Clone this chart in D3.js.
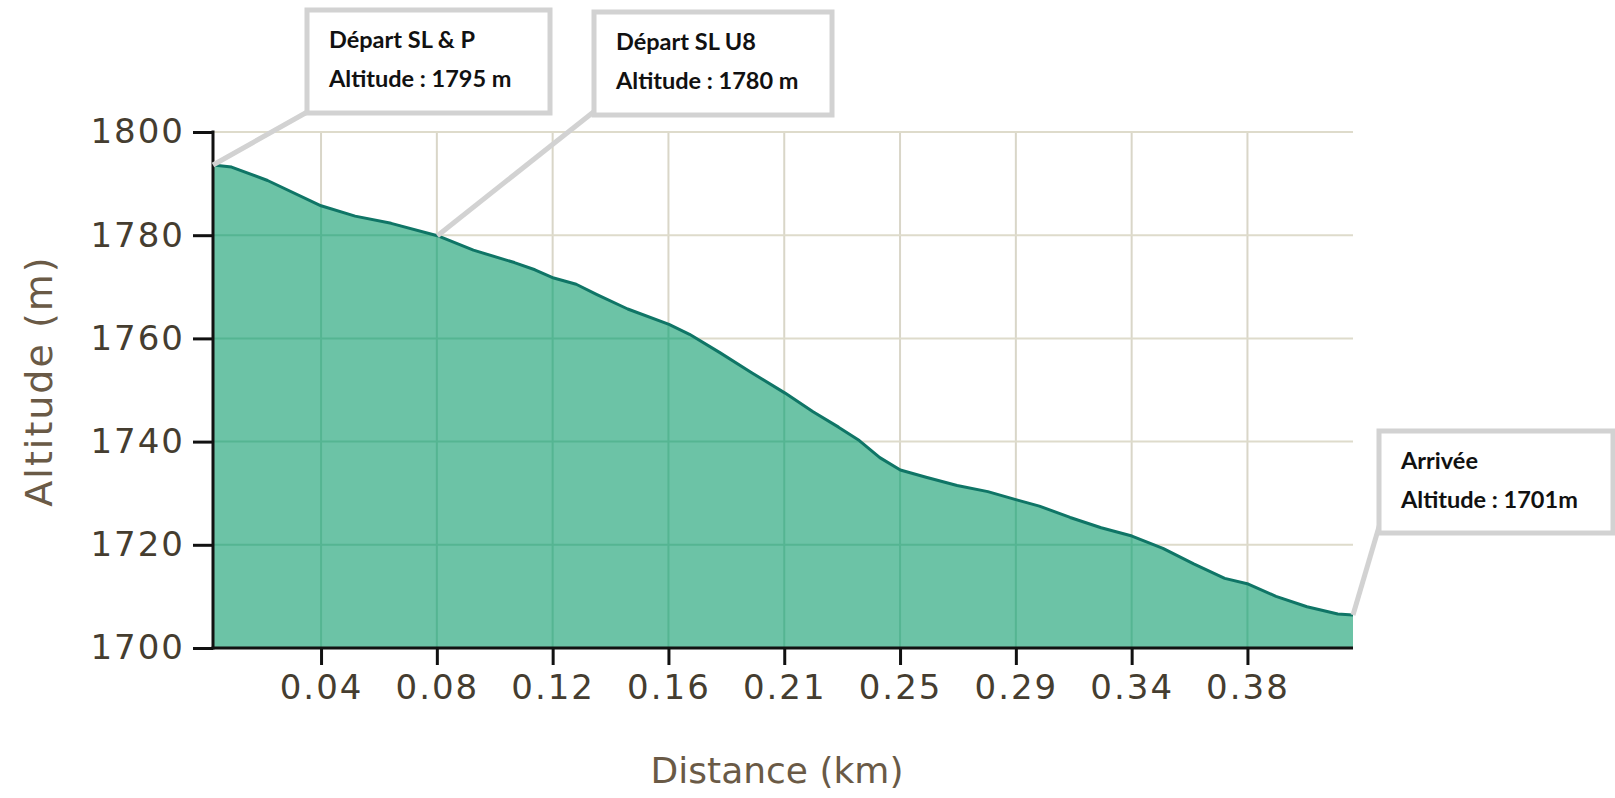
<!DOCTYPE html>
<html>
<head>
<meta charset="utf-8">
<script src="https://cdn.jsdelivr.net/npm/d3@7"></script>
<style>
  body { margin: 0; background: #fff; }
  svg { display: block; }
</style>
</head>
<body>
<div id="chart-area"></div>
<script>
// profile
var distKm = [0, 0.0067, 0.0197, 0.0390, 0.0513, 0.0643, 0.0810, 0.0940, 0.1088, 0.1162,
  0.1230, 0.1311, 0.1386, 0.1497, 0.1646, 0.1720, 0.1831, 0.1943, 0.2065, 0.2166,
  0.2258, 0.2333, 0.2407, 0.2481, 0.2574, 0.2686, 0.2797, 0.2901, 0.2983, 0.3094,
  0.3206, 0.3317, 0.3429, 0.3540, 0.3652, 0.3737, 0.3837, 0.3949, 0.4060, 0.4115]
var altitude = [1793.6, 1793.2, 1790.6, 1785.7, 1783.7, 1782.3, 1779.9, 1777.1, 1774.7, 1773.3,
  1771.7, 1770.5, 1768.5, 1765.7, 1762.7, 1760.8, 1757.2, 1753.4, 1749.4, 1745.8,
  1742.8, 1740.2, 1736.9, 1734.5, 1733.1, 1731.5, 1730.3, 1728.7, 1727.5, 1725.3,
  1723.3, 1721.7, 1719.3, 1716.3, 1713.5, 1712.4, 1710.0, 1708.0, 1706.6, 1706.4]

var yTicks = [1700, 1720, 1740, 1760, 1780, 1800]
var xTicks = [0.0390, 0.0808, 0.1226, 0.1644, 0.2062, 0.2480, 0.2898, 0.3316, 0.3734]
var xTickLabels = ["0.04", "0.08", "0.12", "0.16", "0.21", "0.25", "0.29", "0.34", "0.38"]

var notes = [
  { line1: "Départ SL & P", line2: "Altitude : 1795 m", at: 0 },
  { line1: "Départ SL U8", line2: "Altitude : 1780 m", at: 6 },
  { line1: "Arrivée", line2: "Altitude : 1701m", at: 39 }
]

var margin = { left: 213, right: 262, top: 132, bottom: 150 }
var width = 1615 - margin.left - margin.right
var height = 798 - margin.top - margin.bottom

var svg = d3.select("#chart-area")
  .append("svg")
  .attr("width", 1615)
  .attr("height", 798)

var g = svg.append("g")
  .attr("transform", "translate(" + margin.left + "," + margin.top + ")")

var x = d3.scaleLinear()
  .domain([0, d3.max(distKm)])
  .range([0, width])

var y = d3.scaleLinear()
  .domain([1700, 1800])
  .range([height, 0])

var pts = distKm.map(function (d, i) { return [d, altitude[i]] })

// grid (pale over the white part)
var grid = g.append("g").attr("class", "grid")
grid.selectAll(".gx").data(xTicks).enter().append("line")
  .attr("x1", function (d) { return x(d) }).attr("x2", function (d) { return x(d) })
  .attr("y1", 0).attr("y2", height)
  .attr("stroke", "#d9d6c8").attr("stroke-width", 2)
grid.selectAll(".gy").data(yTicks).enter().append("line")
  .attr("x1", 0).attr("x2", width)
  .attr("y1", function (d) { return y(d) }).attr("y2", function (d) { return y(d) })
  .attr("stroke", "#dedbcb").attr("stroke-width", 2)

var area = d3.area()
  .x(function (d) { return x(d[0]) })
  .y0(height)
  .y1(function (d) { return y(d[1]) })

g.append("clipPath").attr("id", "under")
  .append("path").attr("d", area(pts))

g.append("path")
  .attr("d", area(pts))
  .attr("fill", "#6cc3a6")

// grid seen through the fill
var grid2 = g.append("g").attr("clip-path", "url(#under)")
grid2.selectAll("line.vx").data(xTicks).enter().append("line")
  .attr("x1", function (d) { return x(d) }).attr("x2", function (d) { return x(d) })
  .attr("y1", 0).attr("y2", height)
  .attr("stroke", "#55b592").attr("stroke-width", 2)
grid2.selectAll("line.hy").data(yTicks).enter().append("line")
  .attr("x1", 0).attr("x2", width)
  .attr("y1", function (d) { return y(d) }).attr("y2", function (d) { return y(d) })
  .attr("stroke", "#55b592").attr("stroke-width", 2)

g.append("path")
  .attr("d", d3.line().x(function (d) { return x(d[0]) }).y(function (d) { return y(d[1]) })(pts))
  .attr("fill", "none")
  .attr("stroke", "#0f7566")
  .attr("stroke-width", 3)
  .attr("stroke-linejoin", "round")

// axes
var leftAxis = d3.axisLeft(y).tickValues(yTicks).tickSize(20).tickPadding(8)
  .tickFormat(d3.format("d"))
var yAx = g.append("g").attr("class", "y-axis").call(leftAxis)

var bottomAxis = d3.axisBottom(x).tickValues(xTicks).tickSize(17).tickPadding(10)
  .tickFormat(function (d, i) { return xTickLabels[i] })
var xAx = g.append("g").attr("class", "x-axis")
  .attr("transform", "translate(0," + height + ")")
  .call(bottomAxis)

g.selectAll(".domain").remove()
g.append("line").attr("x1", 0).attr("x2", 0).attr("y1", -1.5).attr("y2", height + 1.5)
  .attr("stroke", "#111").attr("stroke-width", 3)
g.append("line").attr("x1", -1.5).attr("x2", width).attr("y1", height).attr("y2", height)
  .attr("stroke", "#111").attr("stroke-width", 3)

g.selectAll(".tick line").attr("stroke", "#111").attr("stroke-width", 3)
g.selectAll(".tick text")
  .attr("fill", "#453d30")
  .style("font-family", "DejaVu Sans, Verdana, sans-serif")
  .style("font-size", "34px")
  .style("letter-spacing", "2px")

svg.append("text")
  .attr("x", margin.left + width / 2 - 6)
  .attr("y", 783)
  .attr("text-anchor", "middle")
  .attr("fill", "#6a5a46")
  .style("font-family", "DejaVu Sans, Verdana, sans-serif")
  .style("font-size", "36px")
  .text("Distance (km)")

svg.append("text")
  .attr("transform", "translate(52,381) rotate(-90)")
  .attr("text-anchor", "middle")
  .attr("fill", "#6a5a46")
  .style("font-family", "DejaVu Sans, Verdana, sans-serif")
  .style("font-size", "38px")
  .style("letter-spacing", "2px")
  .text("Altitude (m)")

// callout boxes
var boxes = [
  { x: 307, y: 10, w: 243, h: 103, from: [309, 111] },
  { x: 594, y: 12, w: 238, h: 103, from: [596, 110] },
  { x: 1379, y: 431, w: 234, h: 102, from: [1381, 520] }
]

notes.forEach(function (n, i) {
  var b = boxes[i]
  var px = margin.left + x(distKm[n.at])
  var py = margin.top + y(altitude[n.at])
  svg.append("line")
    .attr("x1", b.from[0]).attr("y1", b.from[1])
    .attr("x2", px).attr("y2", py)
    .attr("stroke", "#d2d2d2").attr("stroke-width", 5)
  svg.append("rect")
    .attr("x", b.x).attr("y", b.y).attr("width", b.w).attr("height", b.h)
    .attr("fill", "#fff").attr("stroke", "#d2d2d2").attr("stroke-width", 5)
  var t = svg.append("text")
    .attr("fill", "#111")
    .style("font-family", "Lato, Open Sans, sans-serif")
    .style("font-weight", "700")
    .style("font-size", "23.5px")
  t.append("tspan").attr("x", b.x + 22).attr("y", b.y + 38).text(n.line1)
  t.append("tspan").attr("x", b.x + 22).attr("y", b.y + 77).text(n.line2)
})
</script>
</body>
</html>
